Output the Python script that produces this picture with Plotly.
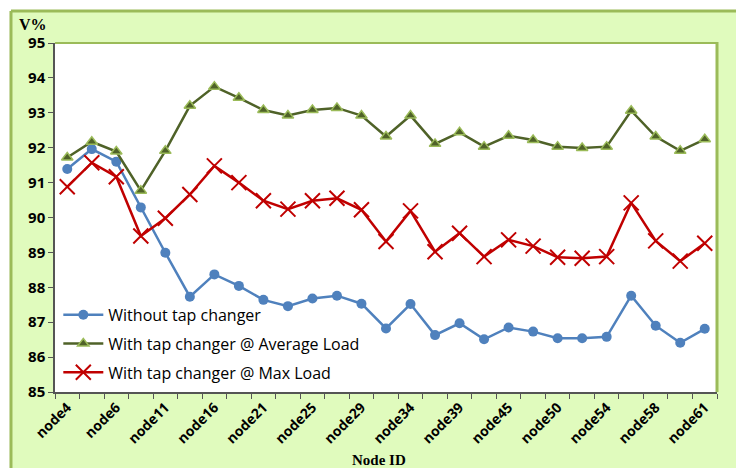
import plotly.graph_objects as go

# node ids along the feeder (only every other one is labelled on the axis)
nodes = ['node4', 'node5', 'node6', 'node8', 'node11', 'node13', 'node16', 'node18',
         'node21', 'node23', 'node25', 'node27', 'node29', 'node31', 'node34', 'node36',
         'node39', 'node42', 'node45', 'node47', 'node50', 'node52', 'node54', 'node56',
         'node58', 'node60', 'node61']

v_without_tap = [91.39, 91.96, 91.60, 90.29, 88.99, 87.73, 88.37, 88.04, 87.64, 87.46,
                 87.68, 87.76, 87.53, 86.82, 87.52, 86.63, 86.97, 86.51, 86.85, 86.73,
                 86.54, 86.54, 86.58, 87.76, 86.90, 86.41, 86.81]
v_tap_avg = [91.72, 92.17, 91.89, 90.77, 91.91, 93.20, 93.75, 93.43, 93.08, 92.92,
             93.08, 93.14, 92.92, 92.32, 92.92, 92.11, 92.44, 92.03, 92.34, 92.22,
             92.03, 91.99, 92.03, 93.06, 92.32, 91.91, 92.24]
v_tap_max = [90.88, 91.57, 91.17, 89.47, 89.98, 90.66, 91.48, 91.00, 90.48, 90.24,
             90.48, 90.55, 90.22, 89.31, 90.19, 89.02, 89.55, 88.88, 89.36, 89.18,
             88.86, 88.83, 88.88, 90.42, 89.33, 88.75, 89.26]

tick_text = [n if i % 2 == 0 else '' for i, n in enumerate(nodes)]

fig = go.Figure()
fig.add_trace(go.Scatter(x=nodes, y=v_without_tap, name='Without tap changer',
                         mode='lines+markers', legendgroup='a',
                         line=dict(color='#4f81bd', width=2.5),
                         marker=dict(symbol='circle', size=10, color='#4f81bd')))
fig.add_trace(go.Scatter(x=nodes, y=v_tap_avg, name='With tap changer @ Average Load',
                         mode='lines+markers', legendgroup='b',
                         line=dict(color='#4f6228', width=2.5),
                         marker=dict(symbol='triangle-up', size=10, color='#4f6228',
                                     line=dict(color='#9bbb59', width=1.5))))
fig.add_trace(go.Scatter(x=nodes, y=v_tap_max, name='With tap changer @ Max Load',
                         mode='lines+markers', legendgroup='c',
                         line=dict(color='#c00000', width=2.5),
                         marker=dict(symbol='x-thin', size=15, color='#c00000',
                                     line=dict(color='#c00000', width=2))))

green = '#9bbb59'
fig.update_layout(
    width=736, height=468,
    margin=dict(l=55, r=19, t=43, b=76, autoexpand=False),
    paper_bgcolor='#e0fbbd',
    plot_bgcolor='white',
    font=dict(family='Open Sans', color='black'),
    legend=dict(x=0.005, y=0.27, xanchor='left', yanchor='top',
                bgcolor='rgba(0,0,0,0)', font=dict(size=16, family='Open Sans'),
                traceorder='grouped', tracegroupgap=5, itemwidth=40),
    xaxis=dict(tickvals=nodes, ticktext=tick_text, tickangle=-45, automargin=False,
               tickson='boundaries', ticks='outside', ticklen=5, tickcolor='#555555',
               showline=True, linecolor='#555555', linewidth=1.5, showgrid=False,
               tickfont=dict(size=14, family='Open Sans', weight='bold'),
               range=[-0.5, len(nodes) - 0.5]),
    yaxis=dict(range=[85, 95], dtick=1, ticks='outside', ticklen=5, tickcolor='#555555',
               showline=True, linecolor='#555555', linewidth=1.5, showgrid=False,
               zeroline=False, automargin=False,
               tickfont=dict(size=15, family='Open Sans', weight='bold')),
    shapes=[
        # white page outside the chart area
        dict(type='rect', xref='paper', yref='paper', x0=-0.1, x1=1.1, y0=1.0917, y1=1.2,
             fillcolor='white', line=dict(width=0), layer='above'),
        dict(type='rect', xref='paper', yref='paper', x0=-0.1, x1=-0.0665, y0=-0.3, y1=1.2,
             fillcolor='white', line=dict(width=0), layer='above'),
        # chart area border
        dict(type='line', xref='paper', yref='paper', x0=-0.0665, x1=1.1, y0=1.0917, y1=1.0917,
             line=dict(color=green, width=3)),
        dict(type='line', xref='paper', yref='paper', x0=-0.0665, x1=-0.0665, y0=-0.3, y1=1.0917,
             line=dict(color=green, width=3)),
        # plot area border (top and right)
        dict(type='line', xref='paper', yref='paper', x0=0, x1=1, y0=1, y1=1,
             line=dict(color=green, width=2)),
        dict(type='line', xref='paper', yref='paper', x0=1, x1=1, y0=0, y1=1.003,
             line=dict(color=green, width=3)),
    ],
    annotations=[
        dict(text='<b>V%</b>', xref='paper', yref='paper', x=-0.058, y=1.052,
             xanchor='left', yanchor='middle', showarrow=False,
             font=dict(family='Liberation Serif', size=16)),
        dict(text='<b>Node ID</b>', xref='paper', yref='paper', x=0.489, y=-0.195,
             xanchor='center', yanchor='middle', showarrow=False,
             font=dict(family='Liberation Serif', size=15)),
    ],
)

fig.write_html("out.html", config={'displayModeBar': False},
               post_script="document.body.style.margin='0';")
